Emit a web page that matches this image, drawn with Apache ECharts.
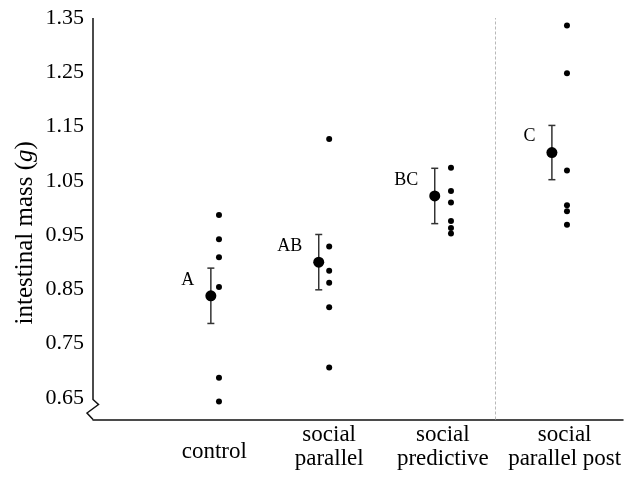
<!DOCTYPE html>
<html><head><meta charset="utf-8">
<script src="https://cdn.jsdelivr.net/npm/echarts@6/dist/echarts.min.js"></script>
<style>html,body{margin:0;padding:0;background:#fff}#c{width:625px;height:481px}</style>
</head><body><div id="c"></div>
<script>
// ---- data ----
const categories = ['control', 'social\nparallel', 'social\npredictive', 'social\nparallel post'];
const categoryX = [0.96, 1.95, 2.93, 3.98];
const pointX = [1.0, 1.95, 3.0, 4.0];
const meanX = [0.93, 1.86, 2.86, 3.87];
const controlValues = [0.987, 0.942, 0.909, 0.854, 0.687, 0.643];
const socialParallelValues = [1.127, 0.929, 0.884, 0.862, 0.817, 0.706];
const socialPredictiveValues = [1.074, 1.031, 1.010, 0.976, 0.963, 0.953];
const socialParallelPostValues = [1.336, 1.248, 1.069, 1.005, 0.994, 0.969];
const means = [0.838, 0.900, 1.022, 1.102];
const standardErrors = [0.051, 0.051, 0.051, 0.050];
const letters = ['A', 'AB', 'BC', 'C'];
const yTicks = [0.65, 0.75, 0.85, 0.95, 1.05, 1.15, 1.25, 1.35];
const dividerX = 3.385;
const yAxisTitle = 'intestinal mass';
const yAxisUnit = 'g';

// ---- build ----
const groups = [controlValues, socialParallelValues, socialPredictiveValues, socialParallelPostValues];
const pointData = [];
groups.forEach((vals, i) => vals.forEach(v => pointData.push([pointX[i], v])));
const meanData = means.map((m, i) => [meanX[i], m]);
const errData = means.map((m, i) => [meanX[i], m - standardErrors[i], m + standardErrors[i]]);

const X_MIN = -0.086, X_MAX = 4.483, Y_MIN = 0.61, Y_MAX = 1.35;
const FONT = '"Liberation Serif", "Times New Roman", serif';
const INK = '#000';

const chart = echarts.init(document.getElementById('c'), null, {renderer: 'canvas'});
chart.setOption({
  animation: false,
  backgroundColor: '#fff',
  grid: {left: 93, right: 2, top: 18, bottom: 61.5, containLabel: false},
  xAxis: {
    type: 'value', min: X_MIN, max: X_MAX,
    axisLine: {show: true, onZero: false, lineStyle: {color: '#111', width: 1.5}},
    axisTick: {show: false},
    splitLine: {show: false},
    axisLabel: {
      customValues: categoryX,
      margin: 3,
      color: INK,
      fontFamily: FONT,
      fontSize: 23,
      formatter: function (v) {
        const idx = categoryX.findIndex(c => Math.abs(c - v) < 1e-6);
        if (idx < 0) return '';
        const lines = categories[idx].split('\n');
        if (lines.length === 1) return '{one|' + lines[0] + '}';
        return lines.map(l => '{two|' + l + '}').join('\n');
      },
      rich: {
        one: {fontFamily: FONT, fontSize: 23, color: INK, lineHeight: 58},
        two: {fontFamily: FONT, fontSize: 23, color: INK, lineHeight: 24.5}
      }
    }
  },
  yAxis: {
    type: 'value', min: Y_MIN, max: Y_MAX,
    axisLine: {show: false},
    axisTick: {show: false},
    splitLine: {show: false},
    axisLabel: {
      customValues: yTicks,
      margin: 9,
      color: INK,
      fontFamily: FONT,
      fontSize: 22,
      formatter: v => v.toFixed(2)
    }
  },
  series: [
    {
      type: 'scatter', name: 'individuals', data: pointData,
      symbol: 'circle', symbolSize: 6,
      itemStyle: {color: '#000', opacity: 1},
      emphasis: {disabled: true},
      z: 3,
      markLine: {
        silent: true, symbol: 'none',
        label: {show: false},
        lineStyle: {color: '#b8b8b8', type: [3, 2], width: 1, opacity: 1},
        data: [{xAxis: dividerX}]
      }
    },
    {
      type: 'custom', name: 'se',
      data: errData,
      encode: {x: 0, y: [1, 2]},
      z: 4,
      renderItem: function (params, api) {
        const x = api.value(0);
        const lo = api.coord([x, api.value(1)]);
        const hi = api.coord([x, api.value(2)]);
        const cap = 3.5;
        const style = {stroke: '#333', lineWidth: 1.5, fill: null};
        return {
          type: 'group',
          children: [
            {type: 'line', shape: {x1: lo[0], y1: lo[1], x2: hi[0], y2: hi[1]}, style},
            {type: 'line', shape: {x1: hi[0] - cap, y1: hi[1], x2: hi[0] + cap, y2: hi[1]}, style},
            {type: 'line', shape: {x1: lo[0] - cap, y1: lo[1], x2: lo[0] + cap, y2: lo[1]}, style}
          ]
        };
      }
    },
    {
      type: 'scatter', name: 'mean', data: meanData,
      symbol: 'circle', symbolSize: 11,
      itemStyle: {color: '#000', opacity: 1},
      emphasis: {disabled: true},
      z: 5,
      label: {
        show: true, position: 'left', distance: 11, offset: [0, -16],
        formatter: p => letters[p.dataIndex],
        fontFamily: FONT, fontSize: 18, color: '#000', opacity: 1
      }
    }
  ]
});

function drawDecor() {
  const top = chart.convertToPixel({xAxisIndex: 0, yAxisIndex: 0}, [X_MIN, Y_MAX]);
  const bot = chart.convertToPixel({xAxisIndex: 0, yAxisIndex: 0}, [X_MIN, Y_MIN]);
  const x0 = top[0], y0 = top[1], yb = bot[1];
  chart.setOption({
    graphic: [
      {
        type: 'polyline', silent: true, z: 10,
        shape: {points: [[x0, y0], [x0, yb - 20], [x0 + 5.5, yb - 15], [x0 - 6, yb - 6.5], [x0, yb]]},
        style: {stroke: '#111', lineWidth: 1.5, fill: null}
      },
      {
        type: 'text', silent: true, z: 10,
        x: 25, y: (y0 + yb) / 2 + 14,
        rotation: Math.PI / 2,
        style: {
          text: '{n|' + yAxisTitle + ' (}{i|' + yAxisUnit + '}{n|)}',
          align: 'center', verticalAlign: 'middle',
          rich: {
            n: {fontFamily: FONT, fontSize: 25, fill: INK},
            i: {fontFamily: FONT, fontSize: 25, fontStyle: 'italic', fill: INK}
          }
        }
      }
    ]
  });
}
drawDecor();
</script>
</body></html>
